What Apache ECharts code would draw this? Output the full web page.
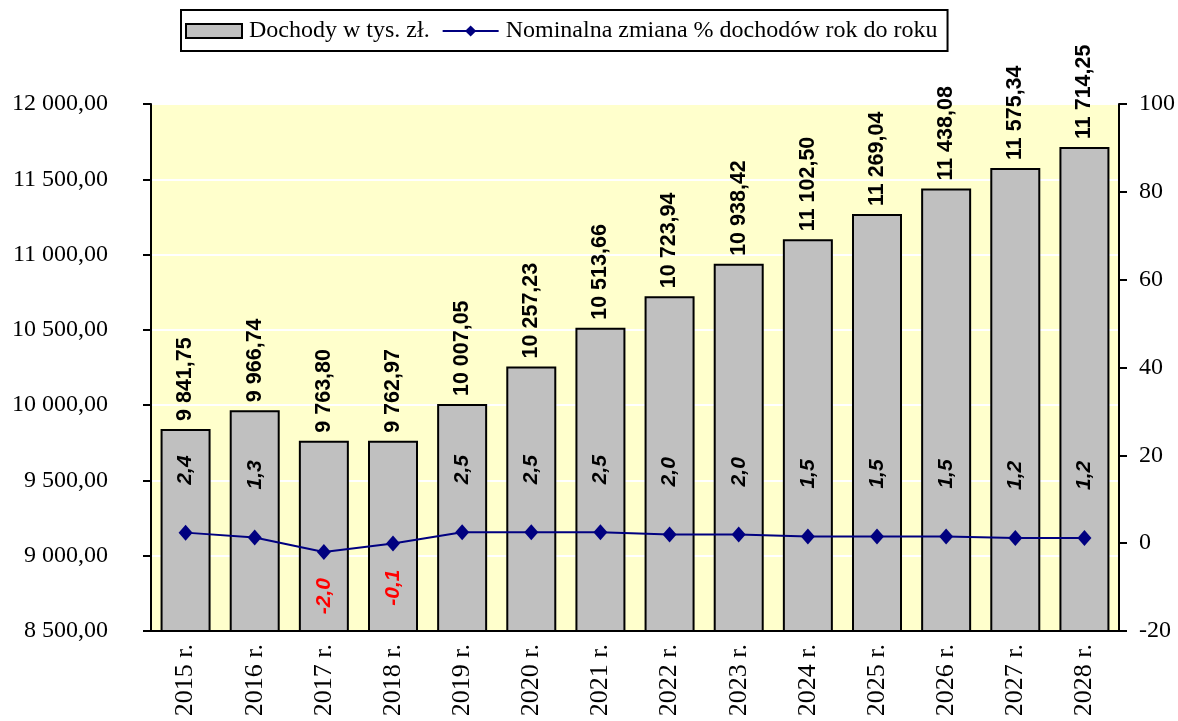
<!DOCTYPE html>
<html>
<head>
<meta charset="utf-8">
<script src="https://cdn.jsdelivr.net/npm/echarts@6/dist/echarts.min.js"></script>
<style>
  html, body { margin: 0; padding: 0; background: #fff; }
  #container { width: 1178px; height: 721px; }
</style>
</head>
<body>
<div id="container"></div>
<script>
const years = ['2015 r.', '2016 r.', '2017 r.', '2018 r.', '2019 r.', '2020 r.', '2021 r.',
  '2022 r.', '2023 r.', '2024 r.', '2025 r.', '2026 r.', '2027 r.', '2028 r.'];
const dochody = [9841.75, 9966.74, 9763.80, 9762.97, 10007.05, 10257.23, 10513.66,
  10723.94, 10938.42, 11102.50, 11269.04, 11438.08, 11575.34, 11714.25];
const zmiana = [2.4, 1.3, -2.0, -0.1, 2.5, 2.5, 2.5, 2.0, 2.0, 1.5, 1.5, 1.5, 1.2, 1.2];

const serif = '"Liberation Serif", "Times New Roman", serif';
const sans = '"Liberation Sans", Arial, sans-serif';

// 9841.75 -> "9 841,75"
function plNum(v, dec) {
  const parts = Math.abs(v).toFixed(dec).split('.');
  const int = parts[0].replace(/\B(?=(\d{3})+(?!\d))/g, ' ');
  return (v < 0 ? '-' : '') + int + (parts[1] ? ',' + parts[1] : '');
}

const lineData = zmiana.map(function (v) {
  if (v < 0) {
    return {
      value: v,
      label: { position: 'bottom', align: 'right', distance: 18, color: '#FF0000' }
    };
  }
  return v;
});

const dom = document.getElementById('container');
const myChart = echarts.init(dom);

option = {
  animation: false,
  legend: {
    top: 10,
    left: 181,
    padding: [9, 10, 8, 4],
    borderColor: '#000',
    borderWidth: 2,
    itemGap: 12,
    itemWidth: 56,
    itemHeight: 14,
    textStyle: { fontFamily: serif, fontSize: 24, color: '#000', padding: [0, 0, 0, 2] },
    data: [
      { name: 'Dochody w tys. zł.', icon: 'rect' },
      'Nominalna zmiana % dochodów rok do roku'
    ]
  },
  grid: {
    left: 151,
    right: 55,
    top: 104,
    bottom: 90,
    show: true,
    backgroundColor: '#FFFFCC',
    borderWidth: 0
  },
  xAxis: {
    type: 'category',
    data: years,
    axisLine: { onZero: false, lineStyle: { color: '#000', width: 2 } },
    axisTick: { length: 9, lineStyle: { color: '#000', width: 2 } },
    axisLabel: {
      rotate: 90,
      fontFamily: serif,
      fontSize: 26,
      color: '#000',
      margin: 13
    }
  },
  yAxis: [
    {
      type: 'value',
      min: 8500,
      max: 12000,
      interval: 500,
      axisLine: { show: true, lineStyle: { color: '#000', width: 2 } },
      axisTick: { show: true, length: 8, lineStyle: { color: '#000', width: 2 } },
      splitLine: { lineStyle: { color: '#FFFFFF', width: 2 } },
      axisLabel: {
        fontFamily: serif,
        fontSize: 24,
        color: '#000',
        margin: 43,
        formatter: function (v) { return plNum(v, 2); }
      }
    },
    {
      type: 'value',
      min: -20,
      max: 100,
      interval: 20,
      axisLine: { show: true, lineStyle: { color: '#000', width: 2 } },
      axisTick: { show: true, length: 8, lineStyle: { color: '#000', width: 2 } },
      splitLine: { show: false },
      axisLabel: {
        fontFamily: serif,
        fontSize: 24,
        color: '#000',
        margin: 20
      }
    }
  ],
  series: [
    {
      name: 'Dochody w tys. zł.',
      type: 'bar',
      data: dochody,
      barWidth: 50,
      itemStyle: { color: '#C0C0C0', borderColor: '#000', borderWidth: 2 },
      label: {
        show: true,
        position: 'top',
        rotate: 90,
        align: 'left',
        verticalAlign: 'middle',
        distance: 8,
        fontFamily: sans,
        fontWeight: 'bold',
        fontSize: 21.5,
        color: '#000',
        formatter: function (p) { return plNum(p.value, 2); }
      },
      z: 2
    },
    {
      name: 'Nominalna zmiana % dochodów rok do roku',
      type: 'line',
      yAxisIndex: 1,
      data: lineData,
      symbol: 'diamond',
      symbolSize: [14, 16],
      lineStyle: { color: '#000080', width: 2 },
      itemStyle: { color: '#000080' },
      label: {
        show: true,
        position: 'top',
        rotate: 90,
        align: 'left',
        verticalAlign: 'middle',
        distance: 40,
        fontFamily: sans,
        fontWeight: 'bold',
        fontStyle: 'italic',
        fontSize: 21,
        color: '#000',
        formatter: function (p) { return plNum(p.value, 1); }
      },
      z: 3
    }
  ]
};

if (option && typeof option === 'object') {
  myChart.setOption(option, true);
}
</script>
</body>
</html>
